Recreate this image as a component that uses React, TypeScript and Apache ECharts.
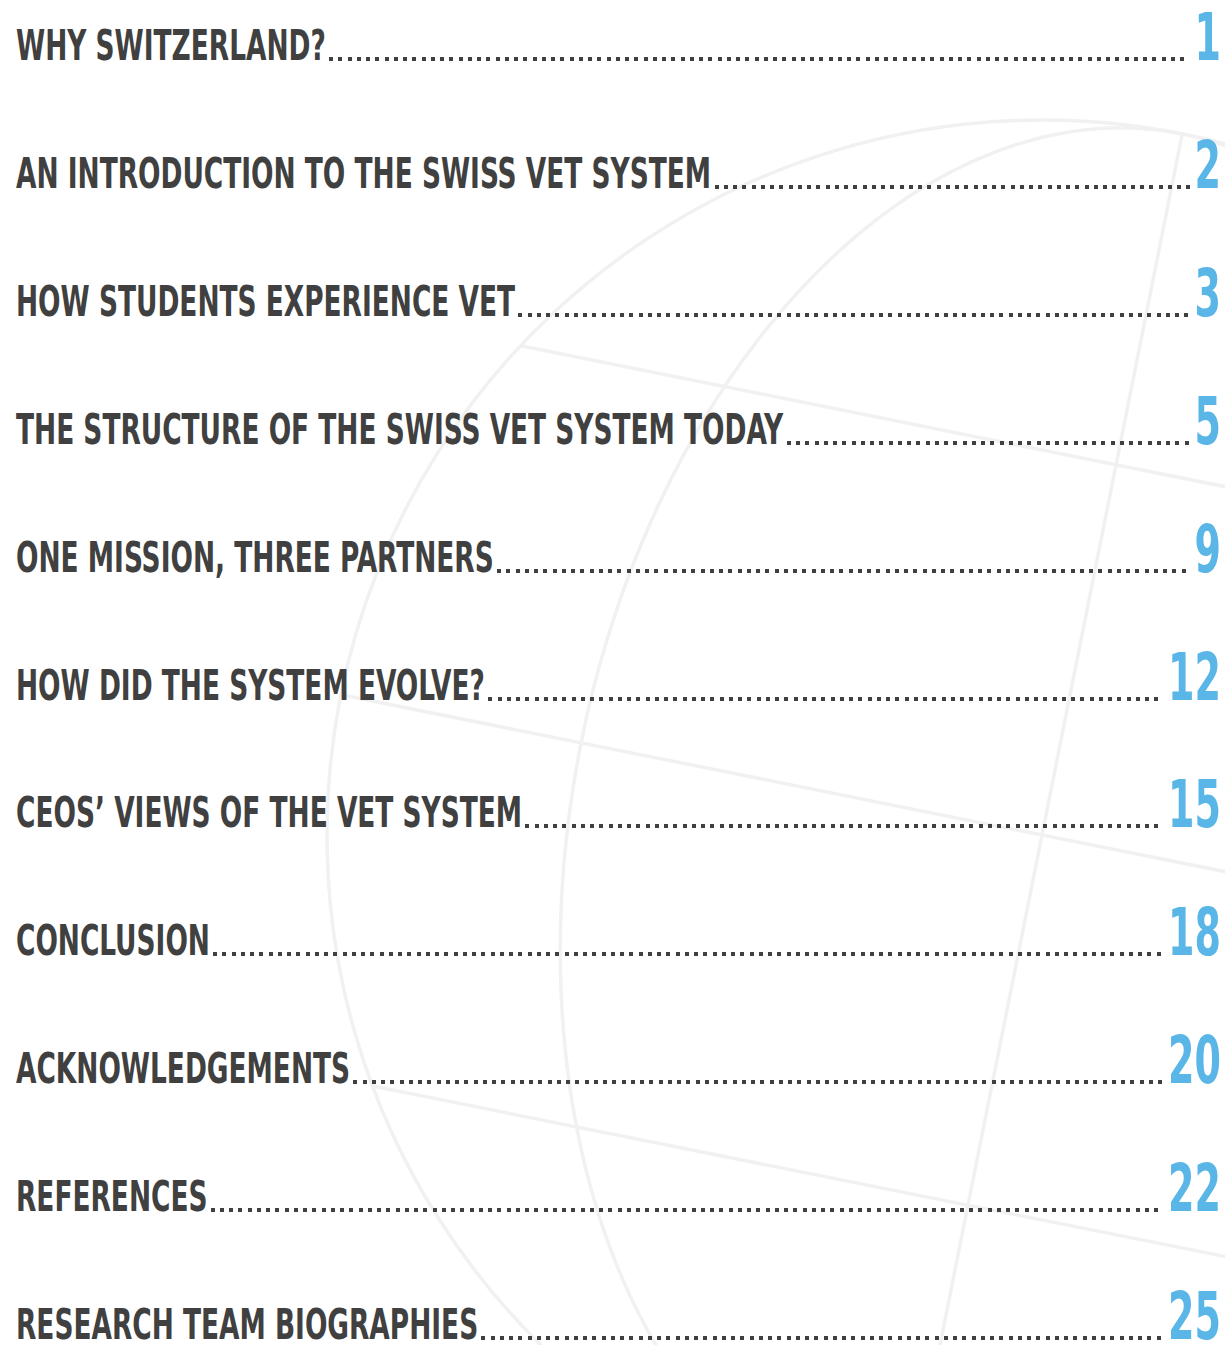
import React, { useEffect, useRef } from "react";
import * as echarts from "echarts";

const titles = [
  "WHY SWITZERLAND?",
  "AN INTRODUCTION TO THE SWISS VET SYSTEM",
  "HOW STUDENTS EXPERIENCE VET",
  "THE STRUCTURE OF THE SWISS VET SYSTEM TODAY",
  "ONE MISSION, THREE PARTNERS",
  "HOW DID THE SYSTEM EVOLVE?",
  "CEOS\u2019 VIEWS OF THE VET SYSTEM",
  "CONCLUSION",
  "ACKNOWLEDGEMENTS",
  "REFERENCES",
  "RESEARCH TEAM BIOGRAPHIES",
];
const pages = [1, 2, 3, 5, 9, 12, 15, 18, 20, 22, 25];

const W = 1225;
const H = 1345;
const FAMILY = '"Liberation Sans Narrow", "DejaVu Sans Condensed", Roboto, sans-serif';
const TITLE_SIZE = 43;
const NUM_SIZE = 66;
const TITLE_COLOR = "#404040";
const NUM_COLOR = "#59b6e6";
const GLOBE_COLOR = "#f1f1f1";

// row layout: baseline of first row and row pitch (px)
const FIRST_BASE = 61;
const PITCH = 127.9;
const Y_MIN = -FIRST_BASE / PITCH;
const Y_MAX = Y_MIN + H / PITCH;

let measureCtx: CanvasRenderingContext2D | null = null;
function measure(text: string, size: number): number {
  if (!measureCtx) measureCtx = document.createElement("canvas").getContext("2d");
  const c = measureCtx!;
  c.font = `bold ${size}px ${FAMILY}`;
  return c.measureText(text).width;
}

function buildGlobe() {
  const cx = 1042, cy = 835, R = 715, tilt = Math.atan(0.2);
  const e = [Math.cos(tilt), Math.sin(tilt)];
  const a = [Math.sin(tilt), -Math.cos(tilt)];
  const pt = (u: number, w: number) => [cx + u * e[0] + w * a[0], cy + u * e[1] + w * a[1]];
  const style = { stroke: GLOBE_COLOR, lineWidth: 3.5, fill: null };
  const els: any[] = [];
  els.push({ type: "circle", shape: { cx, cy, r: R }, style, silent: true, z: 0 });
  [377.5, 0, -377.5].forEach((w) => {
    const h = Math.sqrt(R * R - w * w);
    const p1 = pt(-h, w), p2 = pt(h, w);
    els.push({ type: "line", shape: { x1: p1[0], y1: p1[1], x2: p2[0], y2: p2[1] }, style, silent: true, z: 0 });
  });
  const top = pt(0, R), bot = pt(0, -R);
  els.push({ type: "line", shape: { x1: top[0], y1: top[1], x2: bot[0], y2: bot[1] }, style, silent: true, z: 0 });
  const pts: number[][] = [];
  for (let k = 0; k <= 360; k++) {
    const t = (k / 360) * Math.PI * 2;
    pts.push(pt(470 * Math.cos(t), R * Math.sin(t)));
  }
  els.push({ type: "polyline", shape: { points: pts }, style, silent: true, z: 0 });
  return els;
}

export default function App() {
  const ref = useRef<HTMLDivElement>(null);
  useEffect(() => {
    if (!ref.current) return;
    const chart = echarts.init(ref.current, undefined, { renderer: "svg" });

    const titleScale = 310 / measure(titles[0], TITLE_SIZE);
    const numScale = 53 / measure("12", NUM_SIZE);
    const DOT = 4;
    const STEP = 9.25;

    const renderItem = (params: any, api: any) => {
      const cs = params.coordSys;
      const i = params.dataIndex;
      const base = Math.round(api.coord([0, api.value(1)])[1]);
      const left = cs.x + 16;
      const right = cs.x + cs.width - 4;
      const title = titles[i];
      const num = String(pages[i]);
      const tW = measure(title, TITLE_SIZE) * titleScale;
      const nW = measure(num, NUM_SIZE) * numScale;
      const dotStart = left + tW + 3;
      const dotEnd = right - nW - 4;
      const n = Math.floor((dotEnd - dotStart + (STEP - DOT)) / STEP);
      const dots: any[] = [];
      for (let k = 0; k < n; k++) {
        dots.push({
          type: "rect",
          shape: { x: Math.round(dotStart + k * STEP), y: base - DOT, width: DOT, height: DOT },
          style: { fill: TITLE_COLOR },
        });
      }
      return {
        type: "group",
        children: [
          {
            type: "text",
            x: left,
            y: base - 15.5,
            scaleX: titleScale,
            style: {
              text: title,
              fontSize: TITLE_SIZE,
              lineHeight: 32,
              fontFamily: FAMILY,
              fontWeight: "bold",
              fill: TITLE_COLOR,
              align: "left",
              verticalAlign: "middle",
            },
          },
          ...dots,
          {
            type: "text",
            x: right,
            y: base - 24,
            scaleX: numScale,
            style: {
              text: num,
              fontSize: NUM_SIZE,
              lineHeight: 48,
              fontFamily: FAMILY,
              fontWeight: "bold",
              fill: NUM_COLOR,
              align: "right",
              verticalAlign: "middle",
            },
          },
        ],
      };
    };

    chart.setOption({
      animation: false,
      backgroundColor: "#ffffff",
      grid: { left: 0, right: 0, top: 0, bottom: 0 },
      xAxis: { type: "value", min: 0, max: 1, show: false },
      yAxis: { type: "value", inverse: true, min: Y_MIN, max: Y_MAX, show: false },
      graphic: { elements: buildGlobe() },
      series: [
        {
          type: "custom",
          renderItem,
          clip: false,
          z: 10,
          data: titles.map((_, i) => [0, i]),
        },
      ],
    });
    return () => chart.dispose();
  }, []);
  return (
    <div
      ref={ref}
      style={{ position: "absolute", left: 0, top: 0, width: W, height: H }}
    />
  );
}
